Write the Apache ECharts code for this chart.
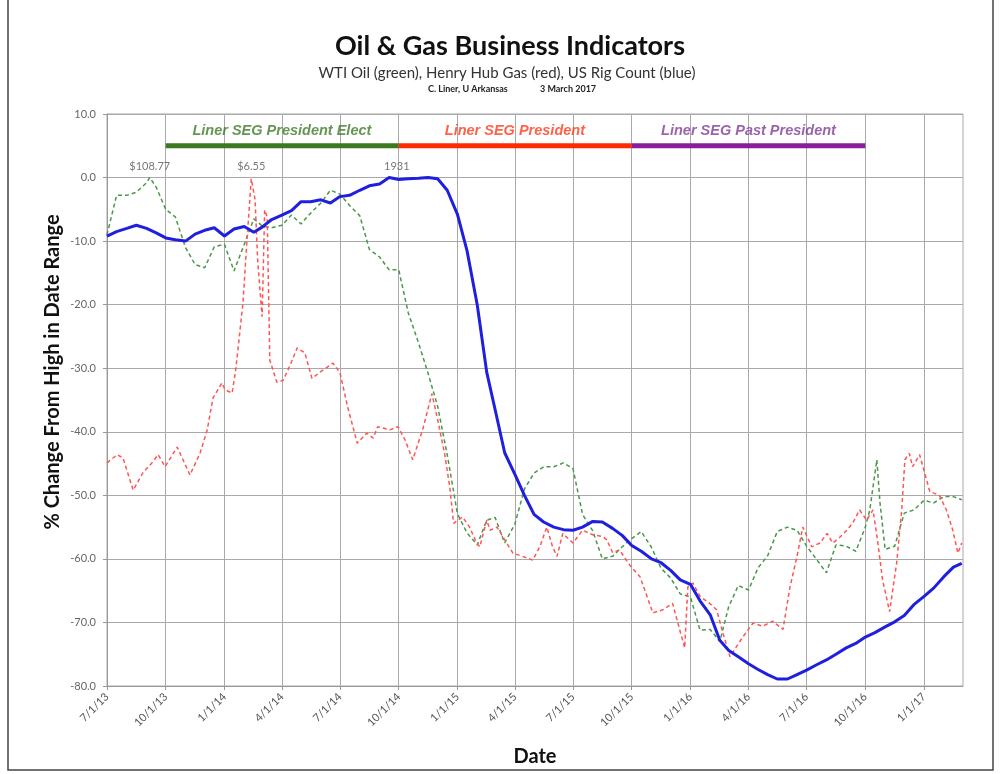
<!DOCTYPE html>
<html><head><meta charset="utf-8">
<script src="https://cdn.jsdelivr.net/npm/echarts@6/dist/echarts.min.js"></script>
<style>html,body{margin:0;padding:0;background:#fff}#c{width:1000px;height:774px}</style>
</head><body><div id="c"></div>
<script>
// ---------- DATA ----------
const quarterTicks = ['2013-07-01','2013-10-01','2014-01-01','2014-04-01','2014-07-01','2014-10-01','2015-01-01','2015-04-01','2015-07-01','2015-10-01','2016-01-01','2016-04-01','2016-07-01','2016-10-01','2017-01-01'];
const axisStart = '2013-07-01';
const axisEnd = '2017-03-03';

const rigDates = ['2013-07-01','2013-07-16','2013-08-01','2013-08-16','2013-09-01','2013-09-16','2013-10-01','2013-10-16','2013-11-01','2013-11-16','2013-12-01','2013-12-16',
'2014-01-01','2014-01-16','2014-02-01','2014-02-16','2014-03-01','2014-03-16','2014-04-01','2014-04-16','2014-05-01','2014-05-16','2014-06-01','2014-06-16','2014-07-01','2014-07-16','2014-08-01','2014-08-16','2014-09-01','2014-09-16','2014-10-01','2014-10-16','2014-11-01','2014-11-16','2014-12-01','2014-12-16',
'2015-01-01','2015-01-16','2015-02-01','2015-02-16','2015-03-01','2015-03-16','2015-04-01','2015-04-16','2015-05-01','2015-05-16','2015-06-01','2015-06-16','2015-07-01','2015-07-16','2015-08-01','2015-08-16','2015-09-01','2015-09-16','2015-10-01','2015-10-16','2015-11-01','2015-11-16','2015-12-01','2015-12-16',
'2016-01-01','2016-01-16','2016-02-01','2016-02-16','2016-03-01','2016-03-16','2016-04-01','2016-04-16','2016-05-01','2016-05-16','2016-06-01','2016-06-16','2016-07-01','2016-07-16','2016-08-01','2016-08-16','2016-09-01','2016-09-16','2016-10-01','2016-10-16','2016-11-01','2016-11-16','2016-12-01','2016-12-16',
'2017-01-01','2017-01-16','2017-02-01','2017-02-16','2017-03-01'];
const rigValues = [-9.2,-8.5,-8.0,-7.5,-8.0,-8.7,-9.5,-9.8,-10.0,-8.9,-8.3,-7.9,
-9.2,-8.1,-7.7,-8.6,-7.8,-6.6,-5.9,-5.2,-3.8,-3.8,-3.5,-4.0,-3.0,-2.8,-2.0,-1.3,-1.0,0.0,-0.3,-0.2,-0.1,0.0,-0.2,-2.0,
-5.8,-11.5,-20.0,-30.7,-36.5,-43.3,-46.7,-50.0,-53.0,-54.2,-55.0,-55.4,-55.5,-55.0,-54.1,-54.2,-55.2,-56.3,-57.9,-58.8,-60.0,-60.6,-61.8,-63.3,
-64.0,-66.6,-68.8,-72.8,-74.4,-75.4,-76.5,-77.4,-78.2,-78.9,-78.9,-78.2,-77.5,-76.7,-75.9,-75.0,-74.0,-73.3,-72.3,-71.6,-70.7,-69.9,-68.9,-67.2,
-65.9,-64.6,-62.8,-61.3,-60.7];

const oilDates = ['2013-07-01','2013-07-16','2013-08-01','2013-08-16','2013-09-01','2013-09-06','2013-09-16','2013-10-01','2013-10-16','2013-11-01','2013-11-16','2013-12-01','2013-12-16',
'2014-01-01','2014-01-16','2014-02-01','2014-02-16','2014-03-01','2014-03-16','2014-04-01','2014-04-16','2014-05-01','2014-05-16','2014-06-01','2014-06-16','2014-07-01','2014-07-16','2014-08-01','2014-08-16','2014-09-01','2014-09-16','2014-10-01','2014-10-16','2014-11-01','2014-11-16','2014-12-01','2014-12-16',
'2015-01-01','2015-01-16','2015-02-01','2015-02-16','2015-03-01','2015-03-16','2015-04-01','2015-04-16','2015-05-01','2015-05-16','2015-06-01','2015-06-16','2015-07-01','2015-07-16','2015-08-01','2015-08-16','2015-09-01','2015-09-16','2015-10-01','2015-10-16','2015-11-01','2015-11-16','2015-12-01','2015-12-16',
'2016-01-01','2016-01-16','2016-02-01','2016-02-16','2016-03-01','2016-03-16','2016-04-01','2016-04-16','2016-05-01','2016-05-16','2016-06-01','2016-06-16','2016-07-01','2016-07-16','2016-08-01','2016-08-16','2016-09-01','2016-09-16','2016-10-01','2016-10-08','2016-10-19','2016-10-24','2016-11-01','2016-11-16','2016-12-01','2016-12-16',
'2017-01-01','2017-01-16','2017-02-01','2017-02-16','2017-03-01'];
const oilValues = [-9.0,-2.8,-2.8,-2.3,-0.8,0.0,-1.5,-5.0,-6.2,-11.0,-13.7,-14.2,-10.9,
-10.5,-14.7,-10.5,-6.5,-7.6,-7.9,-7.5,-5.9,-7.3,-5.6,-4.0,-2.0,-2.6,-4.4,-6.0,-11.3,-12.5,-14.5,-14.5,-21.3,-26.0,-30.8,-36.0,-43.6,
-52.9,-55.9,-57.8,-53.9,-53.5,-57.5,-54.5,-49.0,-46.5,-45.5,-45.5,-44.9,-45.8,-53.0,-55.6,-60.0,-59.6,-58.1,-56.8,-55.7,-58.2,-61.5,-63.0,-65.5,
-66.0,-71.2,-71.1,-73.0,-67.5,-64.2,-64.9,-61.4,-59.5,-55.7,-55.0,-55.5,-58.0,-60.0,-62.2,-57.8,-58.0,-58.8,-55.0,-52.3,-44.4,-51.2,-58.5,-58.0,-52.8,-52.3,
-50.8,-51.2,-50.2,-50.2,-50.7];

const gasDates = ['2013-07-01','2013-07-17','2013-07-26','2013-08-11','2013-08-26','2013-09-11','2013-09-19','2013-09-30','2013-10-19','2013-11-08','2013-11-24','2013-12-05','2013-12-14','2013-12-28',
'2014-01-02','2014-01-13','2014-01-19','2014-01-30','2014-02-05','2014-02-12','2014-02-18','2014-02-22','2014-03-01','2014-03-05','2014-03-09','2014-03-13','2014-03-24','2014-04-03','2014-04-14','2014-04-25','2014-05-07','2014-05-18','2014-06-04','2014-06-20','2014-07-01','2014-07-13','2014-07-28','2014-08-12','2014-08-22','2014-08-29','2014-09-17','2014-09-30','2014-10-11','2014-10-23','2014-11-08','2014-11-22','2014-12-01','2014-12-12','2014-12-20','2014-12-26',
'2015-01-09','2015-01-20','2015-01-31','2015-02-05','2015-02-16','2015-02-21','2015-03-04','2015-03-19','2015-03-29','2015-04-13','2015-04-29','2015-05-10','2015-05-21','2015-05-30','2015-06-06','2015-06-15','2015-07-01','2015-07-16','2015-08-01','2015-08-17','2015-08-23','2015-09-01','2015-09-12','2015-09-28','2015-10-14','2015-10-25','2015-11-03','2015-11-19','2015-12-04','2015-12-15','2015-12-23','2015-12-28',
'2016-01-05','2016-01-16','2016-01-31','2016-02-11','2016-02-21','2016-03-03','2016-03-10','2016-03-23','2016-04-08','2016-04-23','2016-05-09','2016-05-25','2016-06-05','2016-06-16','2016-06-25','2016-07-09','2016-07-22','2016-08-02','2016-08-11','2016-08-22','2016-09-02','2016-09-11','2016-09-22','2016-10-03','2016-10-13','2016-10-20','2016-10-28','2016-11-08','2016-11-19','2016-11-27','2016-12-02','2016-12-09','2016-12-14','2016-12-25',
'2017-01-10','2017-01-25','2017-02-05','2017-02-15','2017-02-23','2017-03-01'];
const gasValues = [-44.9,-43.6,-44.1,-49.2,-46.5,-44.7,-43.6,-45.5,-42.4,-46.8,-43.3,-39.7,-34.7,-32.3,
-33.4,-33.9,-30.0,-19.7,-10.3,-0.2,-3.5,-13.0,-21.9,-5.1,-6.2,-28.7,-32.2,-31.9,-29.5,-26.8,-27.6,-31.6,-30.3,-29.2,-30.7,-36.1,-41.8,-40.2,-41.0,-39.2,-39.7,-39.2,-41.3,-44.4,-39.5,-34.0,-38.1,-43.5,-48.7,-54.4,
-53.4,-55.0,-57.5,-58.1,-53.9,-55.5,-55.0,-57.5,-59.1,-59.6,-60.2,-58.1,-55.0,-58.1,-59.6,-56.0,-57.5,-55.5,-56.2,-56.5,-57.0,-59.0,-58.6,-61.0,-62.8,-65.9,-68.5,-68.0,-67.0,-71.1,-74.0,-64.4,
-63.8,-65.9,-67.0,-68.0,-71.7,-75.4,-74.3,-72.3,-70.1,-70.6,-69.8,-71.1,-64.4,-59.6,-55.0,-58.1,-57.5,-56.0,-57.5,-56.6,-55.5,-54.4,-52.3,-53.9,-52.3,-57.0,-63.3,-68.3,-60.7,-52.3,-44.4,-43.4,-45.5,-43.6,
-49.4,-50.0,-52.3,-55.5,-59.1,-57.5];

const periodNames = ['Liner SEG President Elect','Liner SEG President','Liner SEG Past President'];
const periodStarts = ['2013-10-01','2014-10-01','2015-10-01'];
const periodEnds = ['2014-10-01','2015-10-01','2016-10-01'];
const periodMids = ['2014-04-01','2015-04-01','2016-04-01'];
const periodLevel = 5;
const periodLabelLevel = 7.3;

const peakTexts = ['$108.77','$6.55','1931'];
const peakDates = ['2013-09-06','2014-02-12','2014-09-28'];
const peakLabelLevel = 1.8;

// ---------- HELPERS ----------
function ts(s){const p=s.split('-').map(Number);return new Date(p[0],p[1]-1,p[2]).getTime();}
function pairs(d,v){return d.map((x,i)=>[ts(x),v[i]]);}
function fmtDate(v){const d=new Date(v);return (d.getMonth()+1)+'/'+d.getDate()+'/'+String(d.getFullYear()).slice(2);}

const periodBarColors = ['#3b7a1f','#ff2a00','#8b1d9c'];
const periodTextColors = ['#3f7a27','#ff3b1c','#7f3d95'];
const tickVals = quarterTicks.map(ts);
const gridColor = '#a9a9a9';

const periodSeries = periodNames.map((n,i)=>({
  type:'line', name:n, silent:true, symbol:'none', z:3,
  data:[[ts(periodStarts[i]),periodLevel],[ts(periodEnds[i]),periodLevel]],
  lineStyle:{color:periodBarColors[i],width:5,cap:'butt'}
}));

const chart = echarts.init(document.getElementById('c'),null,{renderer:'canvas'});
chart.setOption({
  animation:false,
  backgroundColor:'#fff',
  grid:{left:107,right:37,top:114,bottom:88,show:true,borderColor:gridColor,borderWidth:1},
  graphic:[
    {type:'text',x:510,y:46,style:{text:'Oil & Gas Business Indicators',font:'bold 27px Lato',fill:'#111',align:'center',verticalAlign:'middle'}},
    {type:'text',x:507,y:73,style:{text:'WTI Oil (green), Henry Hub Gas (red), US Rig Count (blue)',font:'15px Lato',fill:'#333',align:'center',verticalAlign:'middle'}},
    {type:'text',x:428,y:89,style:{text:'C. Liner, U Arkansas',font:'bold 9px Lato',fill:'#222',align:'left',verticalAlign:'middle'}},
    {type:'text',x:540,y:89,style:{text:'3 March 2017',font:'bold 9px Lato',fill:'#222',align:'left',verticalAlign:'middle'}},
    {type:'text',x:53,y:372,rotation:Math.PI/2,style:{text:'% Change From High in Date Range',font:'bold 20px Lato',fill:'#111',align:'center',verticalAlign:'middle'}},
    {type:'rect',shape:{x:8,y:-5,width:985,height:775},style:{fill:'none',stroke:'#444',lineWidth:1.5},silent:true}
  ],
  xAxis:{
    type:'value', min:ts(axisStart), max:ts(axisEnd),
    name:'Date', nameLocation:'middle', nameGap:61,
    nameTextStyle:{fontFamily:'Lato',fontWeight:'bold',fontSize:20,color:'#111'},
    axisLine:{show:true,onZero:false,lineStyle:{color:'#999'}},
    axisTick:{show:true,customValues:tickVals,length:4,lineStyle:{color:'#999'}},
    axisLabel:{customValues:tickVals,rotate:45,fontSize:11,color:'#555',fontFamily:'Lato',margin:9,formatter:(v)=>fmtDate(v)},
    splitLine:{show:true,lineStyle:{color:gridColor,width:1}}
  },
  yAxis:{
    type:'value', min:-80, max:10, interval:10,
    axisLine:{show:true,lineStyle:{color:'#999'}},
    axisTick:{show:true,length:4,lineStyle:{color:'#999'}},
    axisLabel:{fontSize:11,color:'#666',fontFamily:'Lato',margin:11,formatter:(v)=>v.toFixed(1)},
    splitLine:{show:true,lineStyle:{color:gridColor,width:1}}
  },
  series:[
    ...periodSeries,
    {type:'scatter',silent:true,symbolSize:0,z:4,
     data:periodNames.map((n,i)=>({value:[ts(periodMids[i]),periodLabelLevel],
       label:{show:true,position:'inside',formatter:n,color:periodTextColors[i],fontFamily:'Liberation Sans',fontStyle:'italic',fontWeight:'bold',fontSize:14.5}}))},
    {type:'scatter',silent:true,symbolSize:0,z:4,
     data:peakTexts.map((t,i)=>({value:[ts(peakDates[i]),peakLabelLevel],
       label:{show:true,position:'inside',formatter:t,color:'#555',fontFamily:'Lato',fontSize:11}}))},
    {type:'line',name:'WTI Oil',data:pairs(oilDates,oilValues),symbol:'none',z:5,
     lineStyle:{color:'#4a974a',width:1.5,type:[4,3]}},
    {type:'line',name:'Henry Hub Gas',data:pairs(gasDates,gasValues),symbol:'none',z:6,
     lineStyle:{color:'#ff5555',width:1.5,type:[4,3]}},
    {type:'line',name:'US Rig Count',data:pairs(rigDates,rigValues),symbol:'none',z:7,
     lineStyle:{color:'#1f1fe0',width:3}}
  ]
});
</script></body></html>
